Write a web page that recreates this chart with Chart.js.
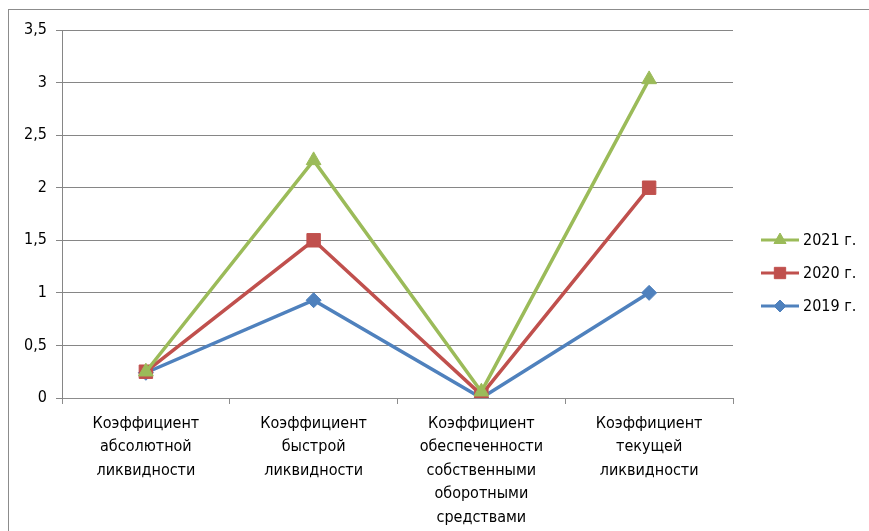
<!DOCTYPE html>
<html>
<head>
<meta charset="utf-8">
<script src="https://cdn.jsdelivr.net/npm/chart.js@4"></script>
<style>
  html, body { margin: 0; padding: 0; background: #fff; }
  #wrap { position: relative; width: 869px; height: 531px; }
</style>
</head>
<body>
<div id="wrap"><canvas id="chart" width="869" height="531"></canvas></div>
<script>
// Категории (подписи по оси X, по строкам)
const categories = [
    ['Коэффициент', 'абсолютной', 'ликвидности'],
    ['Коэффициент', 'быстрой', 'ликвидности'],
    ['Коэффициент', 'обеспеченности', 'собственными', 'оборотными', 'средствами'],
    ['Коэффициент', 'текущей', 'ликвидности']
];

const seriesNames = ['2021 г.', '2020 г.', '2019 г.'];
const values2021 = [0.25, 2.26, 0.06, 3.03];
const values2020 = [0.25, 1.50, 0.03, 2.00];
const values2019 = [0.24, 0.93, 0.00, 1.00];

const seriesColors = ['#9BBB59', '#C0504D', '#4F81BD'];
const seriesMarkers = ['triangle', 'rect', 'rectRot'];
const markerSizes = [8.5, 9.5, 7.5];

const FONT = "'Liberation Sans Narrow', 'DejaVu Sans Condensed', 'Open Sans', sans-serif";

// Рамка вокруг диаграммы
const framePlugin = {
    id: 'frame',
    beforeDraw(chart) {
        const ctx = chart.ctx;
        ctx.save();
        ctx.fillStyle = '#fff';
        ctx.fillRect(0, 0, chart.width, chart.height);
        ctx.strokeStyle = '#8c8c8c';
        ctx.lineWidth = 1;
        ctx.strokeRect(8.5, 9.5, 900, 600);
        ctx.restore();
    }
};

// Легенда справа: линия с маркером и подпись
const legendPlugin = {
    id: 'sideLegend',
    afterDraw(chart) {
        const ctx = chart.ctx;
        const rows = [240, 273, 306];
        ctx.save();
        chart.data.datasets.forEach((ds, i) => {
            const y = rows[i];
            ctx.strokeStyle = ds.borderColor;
            ctx.lineWidth = 3;
            ctx.beginPath();
            ctx.moveTo(761, y);
            ctx.lineTo(799, y);
            ctx.stroke();
            ctx.fillStyle = ds.borderColor;
            ctx.strokeStyle = ds.borderColor;
            ctx.lineWidth = 1;
            Chart.helpers.drawPoint(ctx, {
                pointStyle: ds.pointStyle,
                radius: ds.pointRadius - 1.5,
                borderWidth: 1
            }, 780, y);
            ctx.fillStyle = '#000';
            ctx.font = '16px ' + FONT;
            ctx.textBaseline = 'middle';
            ctx.textAlign = 'left';
            ctx.fillText(ds.label, 803, y + 1);
        });
        ctx.restore();
    }
};

const allValues = [values2021, values2020, values2019];

const datasets = seriesNames.map((name, i) => ({
    label: name,
    data: allValues[i],
    borderColor: seriesColors[i],
    backgroundColor: seriesColors[i],
    pointBackgroundColor: seriesColors[i],
    pointBorderColor: seriesColors[i],
    borderWidth: 3.5,
    pointStyle: seriesMarkers[i],
    pointRadius: markerSizes[i],
    pointBorderWidth: 1,
    tension: 0
}));

new Chart(document.getElementById('chart'), {
    type: 'line',
    data: { labels: categories, datasets: datasets },
    options: {
        responsive: false,
        animation: false,
        layout: { padding: { top: 30, right: 136, left: 0, bottom: 0 } },
        plugins: {
            legend: { display: false },
            tooltip: { enabled: false }
        },
        scales: {
            x: {
                offset: true,
                grid: { offset: true, display: true, drawOnChartArea: false, color: '#8c8c8c', tickLength: 6 },
                border: { color: '#8c8c8c' },
                ticks: {
                    color: '#000',
                    padding: 8,
                    maxRotation: 0,
                    autoSkip: false,
                    font: { family: FONT, size: 16, lineHeight: 1.47 }
                },
                afterFit(scale) { scale.height = 133; }
            },
            y: {
                min: 0,
                max: 3.5,
                grid: { color: '#868686', tickLength: 6 },
                border: { color: '#868686' },
                ticks: {
                    stepSize: 0.5,
                    color: '#000',
                    padding: 9,
                    font: { family: FONT, size: 16 },
                    callback: v => String(v).replace('.', ',')
                },
                afterFit(scale) { scale.width = 62; }
            }
        }
    },
    plugins: [framePlugin, legendPlugin]
});
</script>
</body>
</html>
